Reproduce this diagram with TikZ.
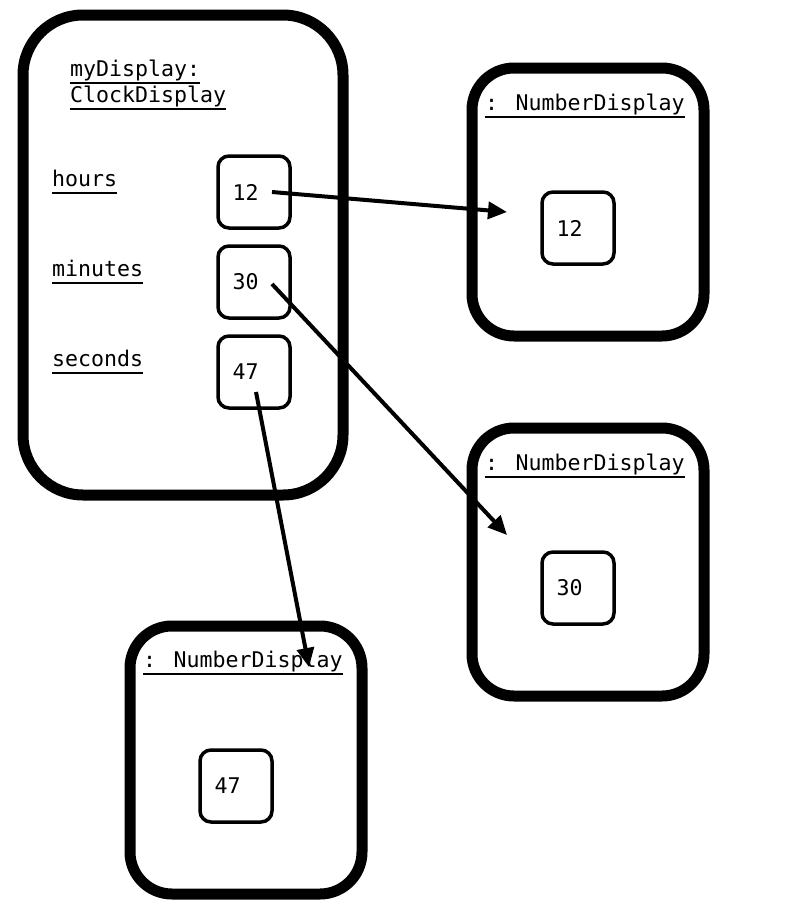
\documentclass[tikz,border=0pt]{standalone}
\usepackage{fontspec}
\usepackage{tikz}
\usetikzlibrary{arrows.meta}
\newfontfamily\codefont{DejaVu Sans Mono}
\newcommand{\ulname}[1]{\setbox0\hbox{#1}\rlap{\raisebox{-8pt}{\rule{\wd0}{2pt}}}\box0}

\begin{document}
\begin{tikzpicture}[x=1pt,y=-1pt,
  every node/.style={inner sep=0pt,font=\codefont\fontsize{21.6}{26}\selectfont},
  clockbox/.style={draw,line width=11pt,rounded corners=60pt,minimum width=320pt,minimum height=480pt},
  objbox/.style={draw,line width=11pt,rounded corners=42pt,minimum width=232pt,minimum height=268pt},
  valbox/.style={draw,line width=3.5pt,rounded corners=11pt,minimum size=72pt,text width=43pt,align=left},
  fieldname/.style={anchor=base west,align=left},
  refarrow/.style={line width=4pt,-{Triangle[length=19pt,width=17pt]}}]
\useasboundingbox (0,0) rectangle (802,916);
\node [clockbox] (clock) at (183,255) {};
\node [fieldname] (clocktitle) at (70,102) {\ulname{myDisplay:}\\\ulname{ClockDisplay}};
\node [fieldname] (hname) at (52,186) {\ulname{hours}};
\node [fieldname] (mname) at (52,276) {\ulname{minutes}};
\node [fieldname] (sname) at (52,366) {\ulname{seconds}};
\node [valbox] (hbox) at (254,192) {12};
\node [valbox] (mbox) at (254,282) {30};
\node [valbox] (sbox) at (254,372) {47};
\node [objbox] (hdisp) at (588,202) {};
\node [fieldname] (htitle) at (485,110) {\ulname{: NumberDisplay}};
\node [valbox] (hval) at (578,228) {12};
\node [objbox] (mdisp) at (588,562) {};
\node [fieldname] (mtitle) at (485,470) {\ulname{: NumberDisplay}};
\node [valbox] (mval) at (578,588) {30};
\node [objbox] (sdisp) at (246,760) {};
\node [fieldname] (stitle) at (143,667) {\ulname{: NumberDisplay}};
\node [valbox] (sval) at (236,786) {47};
\coordinate (hto) at (507,212);
\coordinate (mto) at (507,535);
\coordinate (sto) at (309,667);
\draw [refarrow] ([xshift=18pt]hbox.center) -- (hto);
\draw [refarrow] ([xshift=18pt,yshift=-2pt]mbox.center) -- (mto);
\draw [refarrow] ([xshift=2pt,yshift=-20pt]sbox.center) -- (sto);
\end{tikzpicture}
\end{document}
